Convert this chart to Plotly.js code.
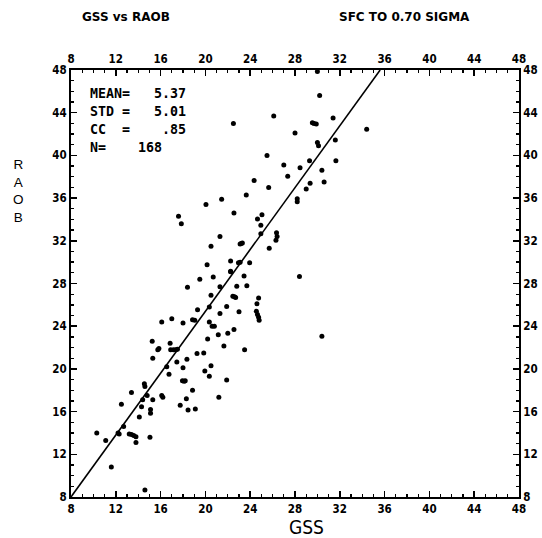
<!DOCTYPE html>
<html>
<head>
<meta charset="utf-8">
<script src="https://cdn.plot.ly/plotly-3.0.1.min.js"></script>
<style>html,body{margin:0;padding:0;background:#fff;}#chart{width:542px;height:538px;}</style>
</head>
<body>
<div id="chart"></div>
<script>
// GSS (x) values
const gss = [
10.3,11.1,11.6,12.3,12.2,12.7,12.5,13.4,
13.2,13.4,13.6,13.8,
13.8,14.1,14.3,14.4,14.55,14.6,14.8,15.1,15.1,15.05,15.3,14.6,15.25,15.3,15.75,15.85,16.1,16.1,16.2,16.55,16.75,16.85,17.0,
16.9,17.15,17.35,17.5,
17.45,17.75,18.0,18.0,17.95,18.1,18.2,18.35,18.3,18.45,18.85,19.1,18.4,18.85,19.05,19.3,19.25,19.5,19.85,19.95,20.35,20.2,20.35,20.35,20.5,20.5,20.7,20.6,20.8,21.15,21.3,21.3,21.2,21.65,21.9,21.9,22.0,22.25,22.45,22.6,22.7,22.55,22.8,23.0,23.45,23.7,23.5,24.75,24.6,24.55,24.65,24.75,24.8,
30.2,26.1,22.5,29.55,29.7,29.9,31.4,34.4,28.0,30.0,30.1,31.6,25.5,29.3,31.65,27.0,28.45,30.4,27.35,24.35,30.6,29.35,25.65,29.0,21.45,23.65,20.05,28.2,28.2,22.55,17.6,17.85,24.65,25.05,24.95,21.3,20.5,24.95,26.35,26.4,26.3,25.7,23.1,23.2,23.3,20.15,22.25,22.95,23.1,23.95,22.25,28.4,30.0,30.4
];
// RAOB (y) values
const raob = [
14.0,13.3,10.8,13.9,14.0,14.6,16.7,17.8,
13.9,13.85,13.75,13.65,
13.1,15.5,16.45,17.1,18.6,18.35,17.5,16.2,15.85,13.6,17.1,8.65,22.6,21.0,21.8,21.9,24.4,17.5,17.35,20.2,19.5,22.4,24.7,
21.8,21.8,21.8,21.85,
20.65,16.6,24.3,20.1,18.9,18.85,18.9,20.9,17.2,16.15,18.0,16.25,27.65,24.6,24.55,25.55,21.45,28.4,21.5,19.8,25.8,22.8,24.4,19.3,20.3,26.9,28.6,24.0,24.0,23.2,27.7,25.2,17.35,22.15,25.85,18.95,23.35,29.1,26.8,26.75,26.7,23.7,27.75,25.35,28.7,27.8,21.8,26.65,26.1,25.4,25.1,24.85,24.55,
45.6,43.7,43.0,43.05,43.0,42.95,43.5,42.45,42.1,41.2,40.9,41.45,40.0,39.5,39.5,39.1,38.85,38.6,38.05,37.65,37.5,37.4,37.0,36.85,35.9,36.3,35.4,35.95,35.65,34.6,34.3,33.6,34.05,34.45,33.45,32.4,31.5,32.65,32.75,32.4,32.05,31.3,31.7,31.75,31.8,29.75,30.1,29.95,30.0,29.95,29.15,28.65,47.85,23.05
];
// Regression line parameters (RAOB = slope*GSS + intercept)
const fitSlope = 1.449;
const fitIntercept = -3.59;
// Axis ticks
const tickStart = 8;
const tickStep = 4;
const minorStep = 1;
const axisRange = [8, 48];
// Titles and statistics text
const leftTitle = "GSS vs RAOB";
const rightTitle = "SFC TO 0.70 SIGMA";
const xTitle = "GSS";
const yTitle = "RAOB";
const statLines = ["MEAN=   5.37", "STD =   5.01", "CC  =    .85", "N=    168"];

const lineX = [axisRange[0], (axisRange[1] - fitIntercept) / fitSlope];
const lineY = lineX.map(v => fitSlope * v + fitIntercept);

const tickFont = {family: "Liberation Sans Narrow, DejaVu Sans Condensed, sans-serif", size: 11.5, color: "#000", weight: "bold"};
function axisBase(extra) {
  return Object.assign({
    range: axisRange, tickmode: "linear", tick0: tickStart, dtick: tickStep,
    ticks: "inside", ticklen: 6, tickwidth: 1.5, tickcolor: "#000",
    minor: {ticks: "inside", tick0: tickStart, dtick: minorStep, ticklen: 3, tickwidth: 1.3, tickcolor: "#000", showgrid: false},
    showline: true, linewidth: 2, linecolor: "#000", showgrid: false, zeroline: false,
    tickfont: tickFont, fixedrange: true
  }, extra);
}

const traces = [
  {x: gss, y: raob, type: "scatter", mode: "markers", marker: {color: "#000", size: 5}, hoverinfo: "skip", xaxis: "x", yaxis: "y"},
  {x: lineX, y: lineY, type: "scatter", mode: "lines", line: {color: "#000", width: 1.6}, hoverinfo: "skip", xaxis: "x", yaxis: "y"},
  {x: gss, y: raob, type: "scatter", mode: "markers", marker: {opacity: 0}, hoverinfo: "skip", xaxis: "x2", yaxis: "y2"}
];

const statFont = {family: "DejaVu Sans Mono, monospace", size: 13.3, color: "#000", weight: "bold"};
const statY = [0.945, 0.903, 0.861, 0.819];
const annotations = [];
statLines.forEach((s, i) => {
  annotations.push({xref: "paper", yref: "paper", x: 0.038, y: statY[i], xanchor: "left", yanchor: "middle",
    text: s.replace(/ /g, "\u00a0"), showarrow: false, font: statFont});
});
const titleFont = {family: "DejaVu Sans, sans-serif", size: 12, color: "#000", weight: "bold"};
annotations.push({xref: "paper", yref: "paper", x: 0.1217, y: 1.123, xanchor: "center", yanchor: "middle", text: leftTitle, showarrow: false, font: titleFont});
annotations.push({xref: "paper", yref: "paper", x: 0.744, y: 1.123, xanchor: "center", yanchor: "middle", text: rightTitle, showarrow: false, font: titleFont});
const axTitleFont = {family: "Liberation Sans Narrow, DejaVu Sans Condensed, sans-serif", size: 19, color: "#000"};
annotations.push({xref: "paper", yref: "paper", x: 0.525, y: -0.071, xanchor: "center", yanchor: "middle", text: xTitle, showarrow: false, font: axTitleFont});
annotations.push({xref: "paper", yref: "paper", x: -0.118, y: 0.716, xanchor: "center", yanchor: "middle",
  text: yTitle.split("").join("<br>"), showarrow: false,
  font: {family: "Liberation Sans, DejaVu Sans, sans-serif", size: 13.5, color: "#000"}});

const layout = {
  width: 542, height: 538,
  margin: {l: 71, r: 23, t: 70, b: 41, pad: 0},
  paper_bgcolor: "#fff", plot_bgcolor: "#fff",
  showlegend: false,
  xaxis: axisBase({anchor: "y"}),
  yaxis: axisBase({anchor: "x"}),
  xaxis2: axisBase({overlaying: "x", side: "top", anchor: "y"}),
  yaxis2: axisBase({overlaying: "y", side: "right", anchor: "x"}),
  annotations: annotations
};

Plotly.newPlot("chart", traces, layout, {staticPlot: true, displayModeBar: false});
</script>
</body>
</html>
